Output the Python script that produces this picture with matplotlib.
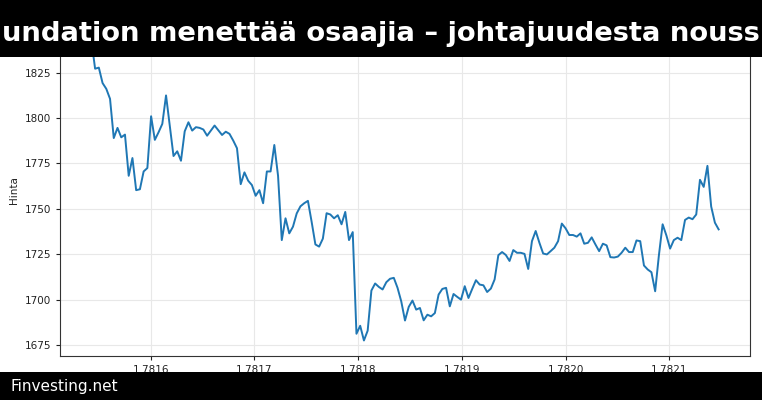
import numpy as np
import matplotlib
matplotlib.use("Agg")
import matplotlib.pyplot as plt
from matplotlib.patches import Rectangle

title_text = "undation menettää osaajia – johtajuudesta nouss"
footer_text = "Finvesting.net"
y_label = "Hinta"
y_ticks = [1675, 1700, 1725, 1750, 1775, 1800, 1825]

start_ts = 1781542800  # unix seconds, hourly samples
step_s = 3600

prices = [
    1843.0, 1827.2, 1827.8, 1819.3, 1816.1, 1810.6, 1789.0, 1794.6, 1789.4, 1790.9,
    1768.2, 1778.0, 1760.3, 1760.8, 1770.6, 1772.5, 1801.0, 1788.0, 1792.2, 1796.8,
    1812.5, 1795.9, 1779.1, 1781.7, 1776.5, 1792.7, 1797.7, 1793.1, 1795.0, 1794.6,
    1793.7, 1790.3, 1793.1, 1795.9, 1793.3, 1790.7, 1792.5, 1791.3, 1787.6, 1783.4,
    1763.6, 1770.1, 1765.5, 1763.1, 1757.2, 1760.3, 1753.1, 1770.6, 1770.6, 1785.2,
    1768.2, 1732.8, 1744.8, 1736.5, 1740.2, 1747.5, 1751.4, 1753.1, 1754.4, 1742.8,
    1730.4, 1729.2, 1733.6, 1747.6, 1746.9, 1744.8, 1746.5, 1741.5, 1748.3, 1732.8,
    1737.2, 1681.2, 1685.6, 1677.5, 1682.9, 1705.0, 1708.9, 1707.0, 1705.6, 1709.6,
    1711.5, 1712.0, 1706.5, 1699.0, 1688.5, 1696.0, 1699.5, 1694.5, 1695.4, 1688.6,
    1691.7, 1690.8, 1692.6, 1702.8, 1705.9, 1706.5, 1696.3, 1703.1, 1701.5, 1700.0,
    1707.4, 1700.9, 1705.9, 1710.7, 1708.3, 1707.9, 1704.2, 1706.1, 1711.1, 1724.5,
    1726.2, 1724.6, 1721.3, 1727.3, 1725.8, 1725.8, 1725.2, 1716.9, 1732.2, 1737.8,
    1731.3, 1725.4, 1724.9, 1726.7, 1728.6, 1732.2, 1741.9, 1739.3, 1735.6, 1735.6,
    1734.7, 1736.5, 1730.8, 1731.3, 1734.3, 1730.4, 1726.7, 1730.8, 1729.9, 1723.4,
    1723.2, 1723.7, 1725.8, 1728.6, 1726.2, 1726.2, 1732.6, 1732.2, 1718.8, 1716.6,
    1715.1, 1704.6, 1724.4, 1741.5, 1735.4, 1728.1, 1732.8, 1734.1, 1732.8, 1743.9,
    1745.2, 1744.3, 1746.9, 1766.0, 1762.1, 1773.7, 1751.3, 1742.4, 1738.7,
]

timestamps = start_ts + step_s * np.arange(len(prices))

W, H = 762, 400
fig = plt.figure(figsize=(W / 100, H / 100), dpi=100)
ax = fig.add_axes([60 / W, 1 - 355.5 / H, 690 / W, 330.5 / H])

ax.plot(timestamps, prices, color="#1f77b4", linewidth=1.4)
ax.ticklabel_format(axis="x", useOffset=False)
ax.set_yticks(y_ticks)
ax.grid(True, color="#e8e8e8", linewidth=0.8)
ax.set_axisbelow(True)
ax.tick_params(labelsize=7.5, length=3, width=0.8, colors="#222222")
for s in ax.spines.values():
    s.set_color("#333333")
    s.set_linewidth(0.8)
ax.set_ylabel(y_label, fontsize=7.5, color="#222222")

# Top and bottom bands
fig.patches.append(Rectangle((0, 1 - 57 / H), 1, 57 / H, transform=fig.transFigure,
                             facecolor="black", edgecolor="none", zorder=10))
fig.patches.append(Rectangle((0, 0), 1, 28 / H, transform=fig.transFigure,
                             facecolor="black", edgecolor="none", zorder=10))
fig.text(0.5, 1 - 34 / H, title_text, color="white", fontsize=19.7, fontweight="bold",
         ha="center", va="center", zorder=11)
fig.text(10 / W, 14 / H, footer_text, color="white", fontsize=11,
         ha="left", va="center", zorder=11)

fig.savefig("out.png", dpi=100)
